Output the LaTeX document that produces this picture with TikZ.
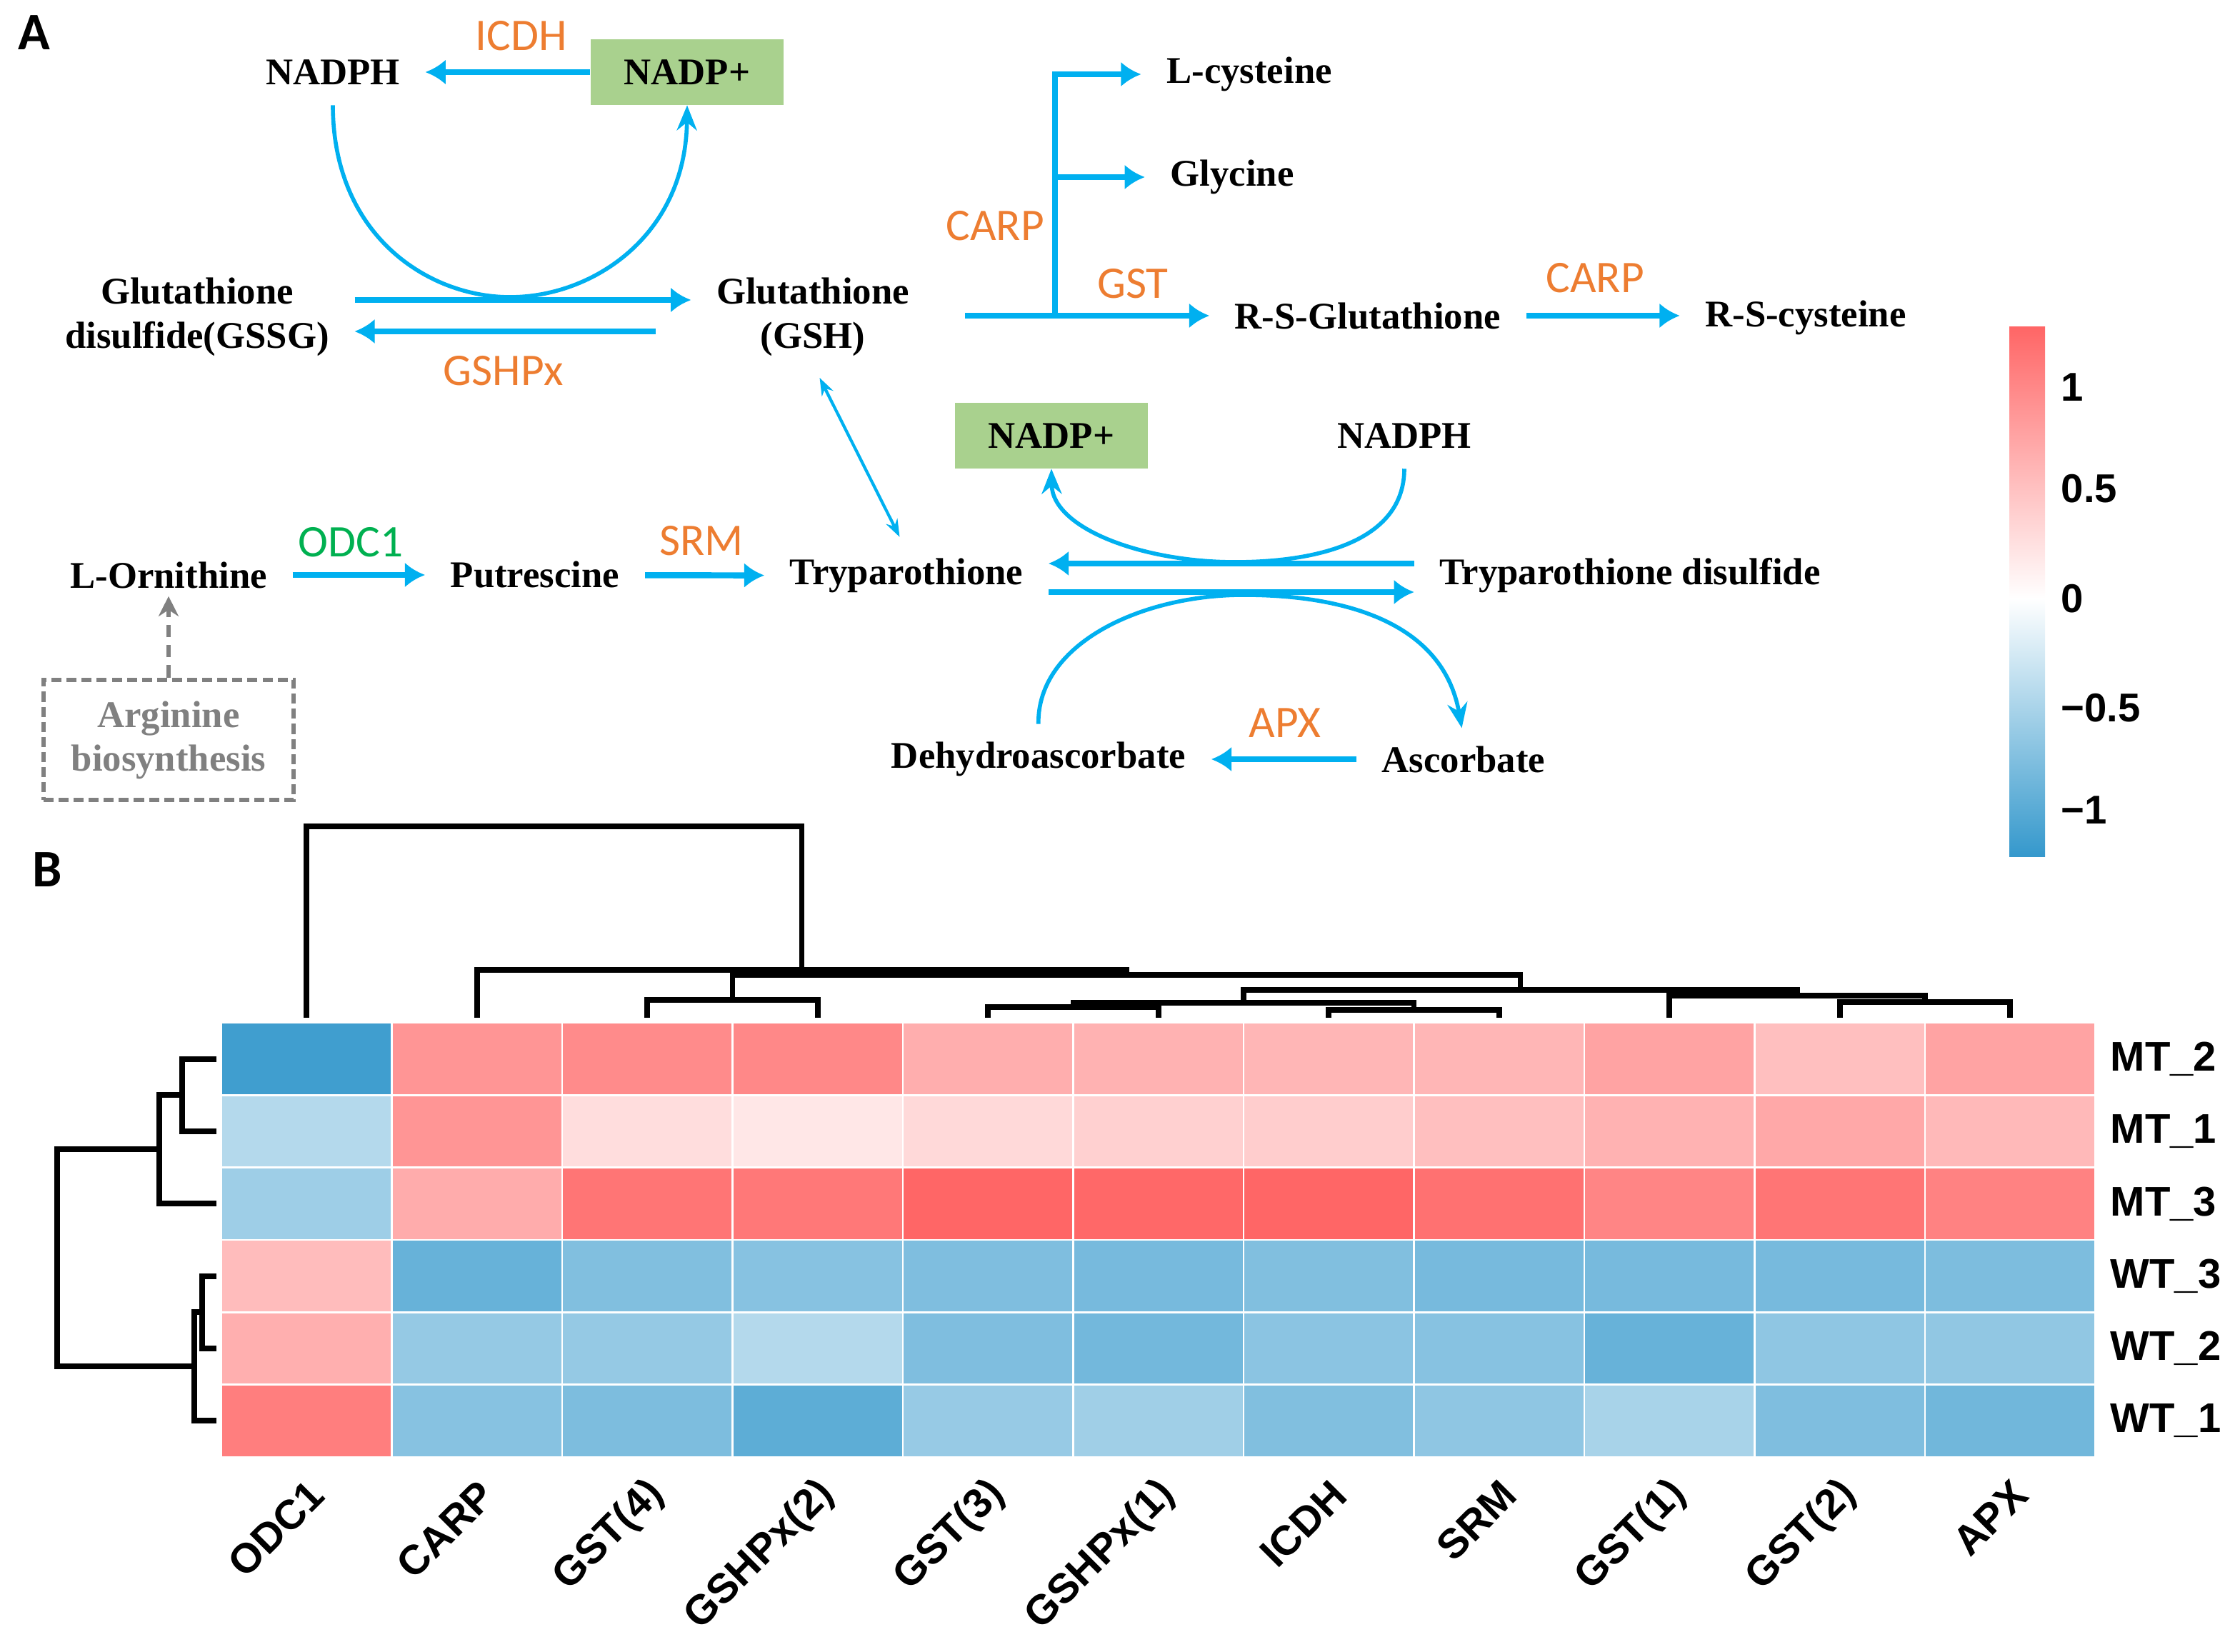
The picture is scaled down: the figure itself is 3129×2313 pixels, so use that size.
\documentclass[tikz,border=0pt]{standalone}
\usepackage{fontspec}
\setmainfont{Liberation Serif}
\newfontfamily\enzfont{Carlito}
\newfontfamily\hmfont{Liberation Sans}
\usetikzlibrary{arrows.meta,calc}
\definecolor{flowblue}{HTML}{00B0F0}
\definecolor{enzorange}{HTML}{ED7D31}
\definecolor{enzgreen}{HTML}{00B050}
\definecolor{cofgreen}{HTML}{A9D18E}
\definecolor{argray}{HTML}{808080}
\definecolor{hmred}{RGB}{255,102,102}
\definecolor{hmblue}{RGB}{52,152,204}

\begin{document}
\begin{tikzpicture}[x=0.01cm,y=-0.01cm,
    met/.style={font=\bfseries\fontsize{15}{17.6}\selectfont, align=center, inner xsep=10pt, inner ysep=3pt},
    cof/.style={met, fill=cofgreen, minimum width=77pt, minimum height=26pt, inner xsep=3pt},
    enz/.style={font=\enzfont\fontsize{18}{20}\selectfont, text=enzorange, inner sep=1pt},
    panel/.style={font=\enzfont\bfseries\fontsize{21}{23}\selectfont, inner sep=0pt},
    flowarr/.style={draw=flowblue, line width=2.4pt, -{Latex[length=8pt,width=10pt]}},
    curv/.style={draw=flowblue, line width=1.6pt, -{Stealth[length=10pt,width=8pt]}},
    dlink/.style={draw=flowblue, line width=1.2pt, {Stealth[length=7pt,width=5pt]}-{Stealth[length=7pt,width=5pt]}},
    argbox/.style={draw=argray, line width=1.7pt, dash pattern=on 4pt off 2pt, minimum width=99.6pt, minimum height=48pt,
        font=\bfseries\fontsize{15}{17.4}\selectfont, text=argray, align=center},
    argarr/.style={draw=argray, line width=1.8pt, dash pattern=on 5pt off 3pt, -{Stealth[length=8pt,width=8pt]}},
    dend/.style={line width=2.2pt},
    rowlab/.style={font=\hmfont\bfseries\fontsize{16.5}{18}\selectfont, anchor=west, inner sep=0pt},
    collab/.style={rowlab, rotate=45, anchor=east},
    cblab/.style={rowlab, font=\hmfont\bfseries\fontsize{16}{18}\selectfont}]
\useasboundingbox (0,0) rectangle (3129,2313);

\node[panel] (labA) at (48,46) {A};
\node[panel] (labB) at (66,1218) {B};

\node[met] (nadph1) at (466,101) {NADPH};
\node[cof] (nadp1) at (962,101) {NADP+};
\node[enz] (icdh) at (730,50) {ICDH};
\node[met] (gssg) at (276,444) {Glutathione\\disulfide(GSSG)};
\node[met] (gsh) at (1138,444) {Glutathione\\(GSH)};
\node[enz] (gshpx) at (705,519) {GSHPx};
\node[met] (lcys) at (1749,104) {L-cysteine};
\node[met] (gly) at (1725,248) {Glycine};
\node[enz] (carp1) at (1393,316) {CARP};
\node[enz] (gst) at (1586,397) {GST};
\node[met] (rsg) at (1915,443) {R-S-Glutathione};
\node[enz] (carp2) at (2233,389) {CARP};
\node[met] (rsc) at (2528,445) {R-S-cysteine};
\node[met] (orn) at (236,805) {L-Ornithine};
\node[enz, text=enzgreen] (odc) at (491,759) {ODC1};
\node[met] (put) at (749,805) {Putrescine};
\node[enz] (srm) at (982,757) {SRM};
\node[met] (tryp) at (1269,806) {Tryparothione};
\node[cof] (nadp2) at (1472,610) {NADP+};
\node[met] (nadph2) at (1966,610) {NADPH};
\node[met] (trypss) at (2282,806) {Tryparothione disulfide};
\node[met] (dehy) at (1454,1063) {Dehydroascorbate};
\node[met] (asc) at (2049,1063) {Ascorbate};
\node[enz] (apx) at (1799,1012) {APX};
\node[argbox] (arg) at (236,1036) {Arginine\\biosynthesis};
\coordinate (fork) at (1477,442);

\draw[flowarr] (nadp1) -- (nadph1);
\draw[curv, shorten <=5pt] (nadph1.south) .. controls (466,330) and (600,416) .. (714,416)
    .. controls (830,416) and (960,330) .. (nadp1.south);
\draw[flowarr] ($(gssg.east)+(0,-24)$) -- ($(gssg.east -| gsh.west)+(0,-24)$);
\draw[flowarr, shorten <=14pt] ($(gsh.west)+(0,20)$) -- ($(gsh.west -| gssg.east)+(0,20)$);
\draw[flowarr, shorten <=12pt] (gsh.east |- fork) -- (fork -| rsg.west);
\draw[flowarr] (fork) |- (lcys);
\draw[flowarr] (fork |- gly) -- (gly);
\draw[flowarr] (rsg.east |- fork) -- (fork -| rsc.west);
\draw[dlink, shorten <=6pt, shorten >=6pt] (gsh.south) -- (tryp.north);
\draw[flowarr] (orn) -- (put);
\draw[flowarr] (put) -- (tryp);
\draw[argarr] (arg) -- (orn);
\draw[flowarr] ($(trypss.west)+(0,-17)$) -- ($(trypss.west -| tryp.east)+(0,-17)$);
\draw[flowarr] ($(tryp.east)+(0,23)$) -- ($(tryp.east -| trypss.west)+(0,23)$);
\draw[curv, shorten <=5pt] (nadph2.south) .. controls (1966,760) and (1840,787) .. (1729,787)
    .. controls (1600,787) and (1473,740) .. (nadp2.south);
\draw[curv, shorten <=4pt, shorten >=4pt] (dehy.north) .. controls (1452,900) and (1600,833) .. (1741,833)
    .. controls (1880,833) and (2020,870) .. (asc.north);
\draw[flowarr] (asc) -- (dehy);

\foreach \vals [count=\r from 0] in {
    {-94,69,76,78,53,50,48,48,60,42,60},
    {-37,69,22,16,25,31,33,42,50,57,46},
    {-48,54,90,88,100,99,100,93,80,90,82},
    {44,-75,-62,-59,-63,-67,-62,-67,-67,-67,-64},
    {52,-52,-52,-37,-63,-69,-57,-59,-75,-55,-54},
    {84,-59,-64,-80,-51,-47,-62,-55,-43,-63,-70}} {
  \foreach \v [count=\c from 0] in \vals {
    \pgfmathtruncatemacro\p{abs(\v)}
    \ifnum\v>0 \def\hue{hmred}\else\def\hue{hmblue}\fi
    \fill[fill=\hue!\p!white, draw=white, line width=0.8pt] ({310+238.5*\c},{1432+101.33*\r}) rectangle ++(238.5,101.33);
  }
}

\foreach \xa/\ya/\xb/\yb/\h in {429.25/1425/1122.5/1358/1157, 667.75/1425/1577/1365/1358,
    1025.5/1400/2128.5/1386/1365, 906.25/1425/1144.75/1425/1400, 1741/1404/2516/1394/1386,
    1502.5/1410/1979.5/1414/1404, 1383.25/1425/1621.75/1425/1410, 1860.25/1425/2098.75/1425/1414,
    2337.25/1425/2695/1403/1394, 2575.75/1425/2814.25/1425/1403}
  \draw[dend] (\xa,\ya) |- (\xb,\h) -- (\xb,\yb);

\foreach \xa/\ya/\xb/\yb/\h in {303/1482.7/303/1584/255, 255/1533.3/303/1685.3/223,
    303/1786.7/303/1888/283, 283/1837.3/303/1989.3/272, 223/1609.3/272/1913.3/80}
  \draw[dend] (\xa,\ya) -| (\h,\yb) -- (\xb,\yb);

\foreach \lab [count=\r from 0] in {MT\_2,MT\_1,MT\_3,WT\_3,WT\_2,WT\_1}
  \node[rowlab] (row\r) at (2954,{1482.7+101.33*\r}) {\lab};
\foreach \lab [count=\c from 0] in {ODC1,CARP,GST(4),GSHPx(2),GST(3),GSHPx(1),ICDH,SRM,GST(1),GST(2),APX}
  \node[collab] (col\c) at ({444+238.5*\c},2083) {\lab};

\shade[top color=hmred, bottom color=white] (2813,458) rectangle (2863,838);
\shade[top color=white, bottom color=hmblue] (2813,838) rectangle (2863,1200);
\node[cblab] (cb1) at (2885,542) {1};
\node[cblab] (cb2) at (2885,684) {0.5};
\node[cblab] (cb3) at (2885,838) {0};
\node[cblab] (cb4) at (2885,991) {−0.5};
\node[cblab] (cb5) at (2885,1134) {−1};
\end{tikzpicture}
\end{document}
